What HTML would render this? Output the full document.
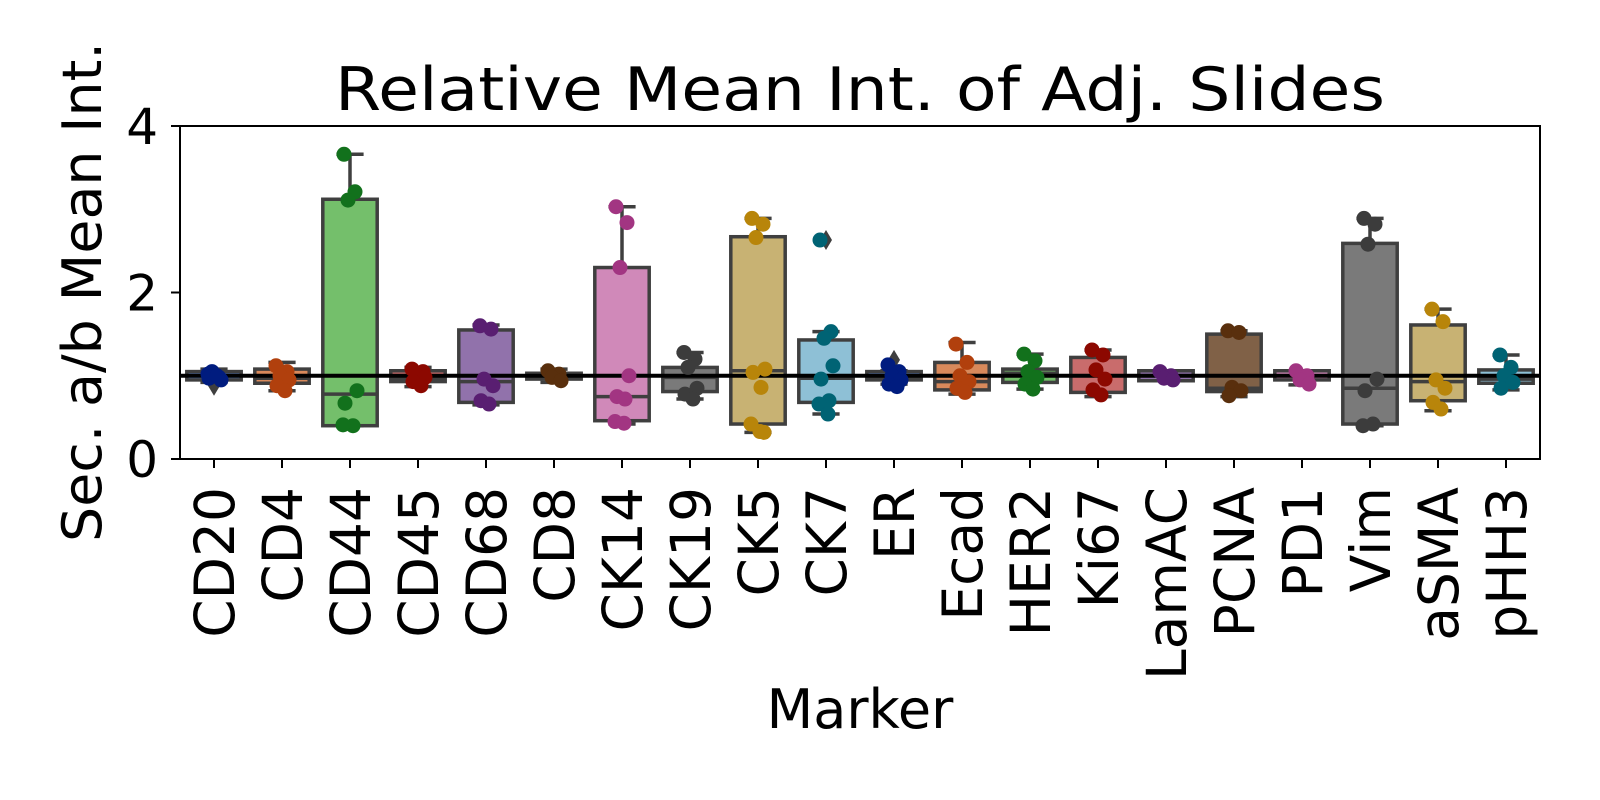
<!DOCTYPE html>
<html><head><meta charset="utf-8"><style>
html,body{margin:0;padding:0;background:#fff;}
svg{display:block;font-family:"DejaVu Sans","Liberation Sans",sans-serif;}
</style></head><body>
<svg id="chart" width="1600" height="800" viewBox="0 0 1600 800" xmlns="http://www.w3.org/2000/svg">
<text x="860" y="110" font-size="60" text-anchor="middle" textLength="1050" lengthAdjust="spacingAndGlyphs">Relative Mean Int. of Adj. Slides</text>
<text transform="translate(101,292) rotate(-90)" font-size="54" text-anchor="middle" textLength="500" lengthAdjust="spacingAndGlyphs">Sec. a/b Mean Int.</text>
<text x="860" y="728" font-size="54" text-anchor="middle">Marker</text>
<g id="plot"></g>
</svg>
<script>
const categories = ["CD20","CD4","CD44","CD45","CD68","CD8","CK14","CK19","CK5","CK7","ER","Ecad","HER2","Ki67","LamAC","PCNA","PD1","Vim","aSMA","pHH3"];
const whiskerLow = [0.92,0.82,0.40,0.87,0.65,0.92,0.42,0.72,0.32,0.54,0.90,0.78,0.84,0.75,0.94,0.75,0.89,0.40,0.58,0.83];
const q1 = [0.95,0.91,0.40,0.93,0.68,0.96,0.46,0.81,0.42,0.68,0.95,0.83,0.92,0.80,0.94,0.81,0.95,0.42,0.70,0.91];
const medians = [1.00,0.97,0.78,0.97,0.93,1.00,0.75,0.98,1.06,0.97,0.98,0.93,1.03,1.00,1.00,0.85,1.00,0.85,0.93,0.96];
const q3 = [1.05,1.08,3.12,1.06,1.55,1.03,2.30,1.10,2.67,1.43,1.05,1.16,1.08,1.22,1.06,1.50,1.06,2.59,1.61,1.07];
const whiskerHigh = [1.08,1.16,3.66,1.10,1.61,1.08,3.03,1.28,2.89,1.53,1.06,1.40,1.26,1.31,1.06,1.54,1.06,2.89,1.80,1.25];
const outliers = [[0.88],[],[],[],[],[],[],[],[],[2.63],[1.19],[],[],[],[],[],[],[],[],[]];
const points = [
 [1.02,0.98,1.05,0.95,0.97,1.00],
 [1.12,1.05,1.00,0.95,0.88,0.82],
 [3.66,3.21,3.11,0.82,0.67,0.40,0.41],
 [1.08,1.05,1.02,0.98,0.93,0.88],
 [1.60,1.56,0.96,0.88,0.70,0.66],
 [1.06,1.02,0.98,0.94],
 [3.03,2.84,2.30,1.00,0.75,0.72,0.45,0.43],
 [1.28,1.20,1.10,0.85,0.78,0.72],
 [2.89,2.82,2.66,1.08,1.04,0.86,0.42,0.33,0.32],
 [2.63,1.53,1.45,1.12,0.96,0.70,0.66,0.54],
 [1.13,1.05,1.00,0.95,0.90,0.87],
 [1.38,1.16,1.00,0.93,0.85,0.80],
 [1.26,1.18,1.05,0.98,0.90,0.84],
 [1.31,1.25,1.07,0.96,0.83,0.77],
 [1.05,1.00,0.97,0.95],
 [1.54,1.52,0.86,0.82,0.76],
 [1.06,1.00,0.95,0.90],
 [2.89,2.82,2.58,0.96,0.82,0.42,0.40],
 [1.80,1.65,0.95,0.85,0.68,0.60],
 [1.25,1.10,1.00,0.92,0.85]
];
const yTicks = [0,2,4];
const refValue = 1;
const darkColors = ["#001c7f","#b1400d","#12711c","#8c0800","#591e71","#592f0d","#a23582","#3c3c3c","#b8850a","#006374"];
const boxColors = ["#5b7fbf","#d8895b","#74bf6b","#c96c6c","#9172ab","#806147","#d089b9","#7a7a7a","#c8b273","#8ec0d6"];
const jitter = [-6,5,-2,7,-5,3,-7,2,6];

const NS="http://www.w3.org/2000/svg";
const L=180,R=1540,T=126,B=459;
const step=(R-L)/categories.length;
const xS=i=>L+step*(i+0.5);
const yS=v=>B-(v/4)*(B-T);
const g=document.getElementById('plot');
function mk(tag,attrs,parent){const e=document.createElementNS(NS,tag);for(const k in attrs)e.setAttribute(k,attrs[k]);(parent||g).appendChild(e);return e;}
const edge="#3f3f3f",bw=step*0.8,lw=3.5;

categories.forEach((c,i)=>{
  const grp=mk('g',{});
  
  
  const x=xS(i),col=i%10;
  mk('line',{x1:x,x2:x,y1:yS(whiskerHigh[i]),y2:yS(q3[i]),stroke:edge,'stroke-width':lw},grp);
  mk('line',{x1:x,x2:x,y1:yS(q1[i]),y2:yS(whiskerLow[i]),stroke:edge,'stroke-width':lw},grp);
  mk('line',{x1:x-bw/4,x2:x+bw/4,y1:yS(whiskerHigh[i]),y2:yS(whiskerHigh[i]),stroke:edge,'stroke-width':lw},grp);
  mk('line',{x1:x-bw/4,x2:x+bw/4,y1:yS(whiskerLow[i]),y2:yS(whiskerLow[i]),stroke:edge,'stroke-width':lw},grp);
  mk('rect',{x:x-bw/2,y:yS(q3[i]),width:bw,height:Math.max(1,yS(q1[i])-yS(q3[i])),fill:boxColors[col],stroke:edge,'stroke-width':lw},grp);
  mk('line',{x1:x-bw/2,x2:x+bw/2,y1:yS(medians[i]),y2:yS(medians[i]),stroke:edge,'stroke-width':lw},grp);
  outliers[i].forEach(v=>{
    const d=mk('path',{d:`M${x},${yS(v)-10}L${x+6},${yS(v)}L${x},${yS(v)+10}L${x-6},${yS(v)}Z`,fill:edge},grp);
    
    
  });
});
const ref=mk('line',{x1:L,x2:R,y1:yS(refValue),y2:yS(refValue),stroke:"#000",'stroke-width':4});


categories.forEach((c,i)=>{
  const x=xS(i);
  points[i].forEach((v,j)=>{
    const p=mk('circle',{cx:x+jitter[j%jitter.length],cy:yS(v),r:7.5,fill:darkColors[i%10]});
    
    
  });
});
const fr=mk('rect',{x:L,y:T,width:R-L,height:B-T,fill:"none",stroke:"#000",'stroke-width':2});


yTicks.forEach(v=>{
  mk('line',{x1:L-9,x2:L,y1:yS(v),y2:yS(v),stroke:"#000",'stroke-width':2});
  const t=mk('text',{x:L-22,y:yS(v)+18,'font-size':50,'text-anchor':'end'});
  t.textContent=v;
  
  
});
categories.forEach((c,i)=>{
  const x=xS(i);
  mk('line',{x1:x,x2:x,y1:B,y2:B+9,stroke:"#000",'stroke-width':2});
  const t=mk('text',{transform:`translate(${x+20},${B+28}) rotate(-90)`,'font-size':55,'text-anchor':'end'});
  t.textContent=c;
  
  
});
</script>
</body></html>
